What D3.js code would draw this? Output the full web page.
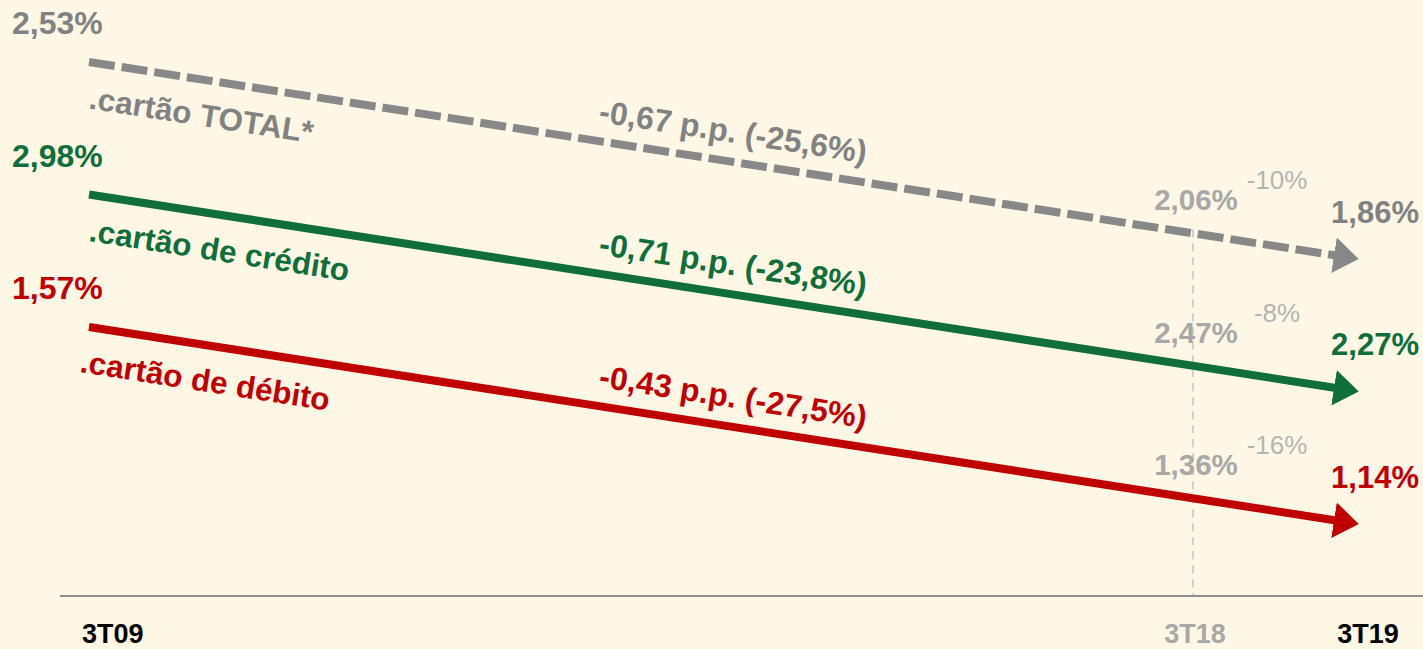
<!DOCTYPE html>
<html>
<head>
<meta charset="utf-8">
<script src="https://cdn.jsdelivr.net/npm/d3@7/dist/d3.min.js"></script>
<style>
  html, body { margin: 0; padding: 0; background: #FEF7E6; }
  svg { display: block; }
  text { font-family: "Liberation Sans", Arial, sans-serif; }
</style>
</head>
<body>
<svg id="chart" width="1423" height="649"></svg>
<script>
// ---- data ----
const periods = ["3T09", "3T18", "3T19"];
const quarterIndex = [0, 36, 40];            // quarters since 3T09
const series = ["cartão TOTAL*", "cartão de crédito", "cartão de débito"];
const values09 = [2.53, 2.98, 1.57];
const values18 = [2.06, 2.47, 1.36];
const values19 = [1.86, 2.27, 1.14];
const changePP = ["-0,67 p.p. (-25,6%)", "-0,71 p.p. (-23,8%)", "-0,43 p.p. (-27,5%)"];
const change18to19 = ["-10%", "-8%", "-16%"];

// ---- styles / layout ----
const colors = ["#828282", "#0F6E39", "#C00000"];
const lineColors = ["#888888", "#0F6E39", "#C00000"];
const lightGray = "#A8A8A8";
const nameAnchorX = [95, 95, 86];
const fmt = v => v.toFixed(2).replace(".", ",") + "%";

const W = 1423, H = 649;
const svg = d3.select("#chart");
svg.append("rect").attr("width", W).attr("height", H).attr("fill", "#FEF7E6");

const x = d3.scaleLinear().domain(quarterIndex).range([89, 1193, 1336]);
const band = d3.scalePoint().domain(series).range([62, 327]);
const drop = 193.5;
const yScales = series.map((s, i) =>
  d3.scaleLinear().domain([values09[i], values19[i]]).range([band(s), band(s) + drop]));

// markers
const defs = svg.append("defs");
series.forEach((s, i) => {
  defs.append("marker")
    .attr("id", "arrow" + i)
    .attr("markerUnits", "userSpaceOnUse")
    .attr("viewBox", "0 -20 28 40")
    .attr("markerWidth", 28).attr("markerHeight", 40)
    .attr("refX", 2).attr("refY", 0)
    .attr("orient", "auto")
    .append("path").attr("d", "M0,-18 L25,0 L0,18 Z").attr("fill", lineColors[i]);
});

// axis baseline
svg.append("line").attr("x1", 60).attr("x2", W).attr("y1", 596).attr("y2", 596)
  .attr("stroke", "#8E8E8E").attr("stroke-width", 2);

// vertical dashed 3T18 line (from gray line down to the axis)
const x18 = x(quarterIndex[1]);
const t18 = (x18 - x(quarterIndex[0])) / (x(quarterIndex[2]) - x(quarterIndex[0]));
const yOnLine = (i, t) => yScales[i](values09[i]) + t * (yScales[i](values19[i]) - yScales[i](values09[i]));
svg.append("line").attr("x1", x18).attr("x2", x18)
  .attr("y1", yOnLine(0, t18) - 4).attr("y2", 595)
  .attr("stroke", "#C4C4C4").attr("stroke-width", 1.5).attr("stroke-dasharray", "8,6");

const line = d3.line().x(d => d[0]).y(d => d[1]);

series.forEach((s, i) => {
  const y = yScales[i];
  const p0 = [x(quarterIndex[0]), y(values09[i])];
  const p1 = [x(quarterIndex[2]), y(values19[i])];
  const angle = Math.atan2(p1[1] - p0[1], p1[0] - p0[0]) * 180 / Math.PI;
  const at = px => [px, p0[1] + (px - p0[0]) / (p1[0] - p0[0]) * (p1[1] - p0[1])];

  svg.append("path").attr("d", line([p0, p1]))
    .attr("fill", "none").attr("stroke", lineColors[i]).attr("stroke-width", 8)
    .attr("stroke-dasharray", i === 0 ? "26,7" : null)
    .attr("marker-end", `url(#arrow${i})`);

  // start value
  svg.append("text").attr("x", 12).attr("y", p0[1] - 28)
    .attr("font-size", 32).attr("font-weight", "bold").attr("fill", colors[i])
    .text(fmt(values09[i]));

  // series name (rotated, below line)
  const a = at(nameAnchorX[i]);
  svg.append("text").attr("transform", `translate(${a[0]},${a[1]}) rotate(${angle})`)
    .attr("dy", 46).attr("font-size", 31.5).attr("font-weight", "bold").attr("fill", colors[i])
    .text("." + s);

  // change label (rotated, above line)
  const b = at(595);
  svg.append("text").attr("transform", `translate(${b[0]},${b[1]}) rotate(${angle})`)
    .attr("dy", -19).attr("font-size", 32).attr("font-weight", "bold").attr("fill", colors[i])
    .text(changePP[i]);

  // 3T18 value
  const c = at(x18);
  svg.append("text").attr("x", x18 + 3).attr("y", c[1] - 23)
    .attr("text-anchor", "middle").attr("font-size", 29.5).attr("font-weight", "bold")
    .attr("fill", lightGray).text(fmt(values18[i]));
  svg.append("text").attr("x", x18 + 84).attr("y", c[1] - 44)
    .attr("text-anchor", "middle").attr("font-size", 26)
    .attr("fill", "#B4B4B4").text(change18to19[i]);

  // end value
  svg.append("text").attr("x", W - 4).attr("y", p1[1] - 33)
    .attr("text-anchor", "end").attr("font-size", 31).attr("font-weight", "bold")
    .attr("fill", colors[i]).text(fmt(values19[i]));
});

// period labels
const labelColors = ["#000000", "#A8A8A8", "#000000"];
periods.forEach((p, k) => {
  const px = x(quarterIndex[k]);
  const anchor = k === 0 ? "start" : "middle";
  const lx = k === 0 ? px - 7 : (k === 1 ? px + 2 : px + 32);
  svg.append("text").attr("x", lx).attr("y", 643)
    .attr("text-anchor", anchor).attr("font-size", 27).attr("font-weight", "bold")
    .attr("fill", labelColors[k]).text(p);
});
</script>
</body>
</html>
